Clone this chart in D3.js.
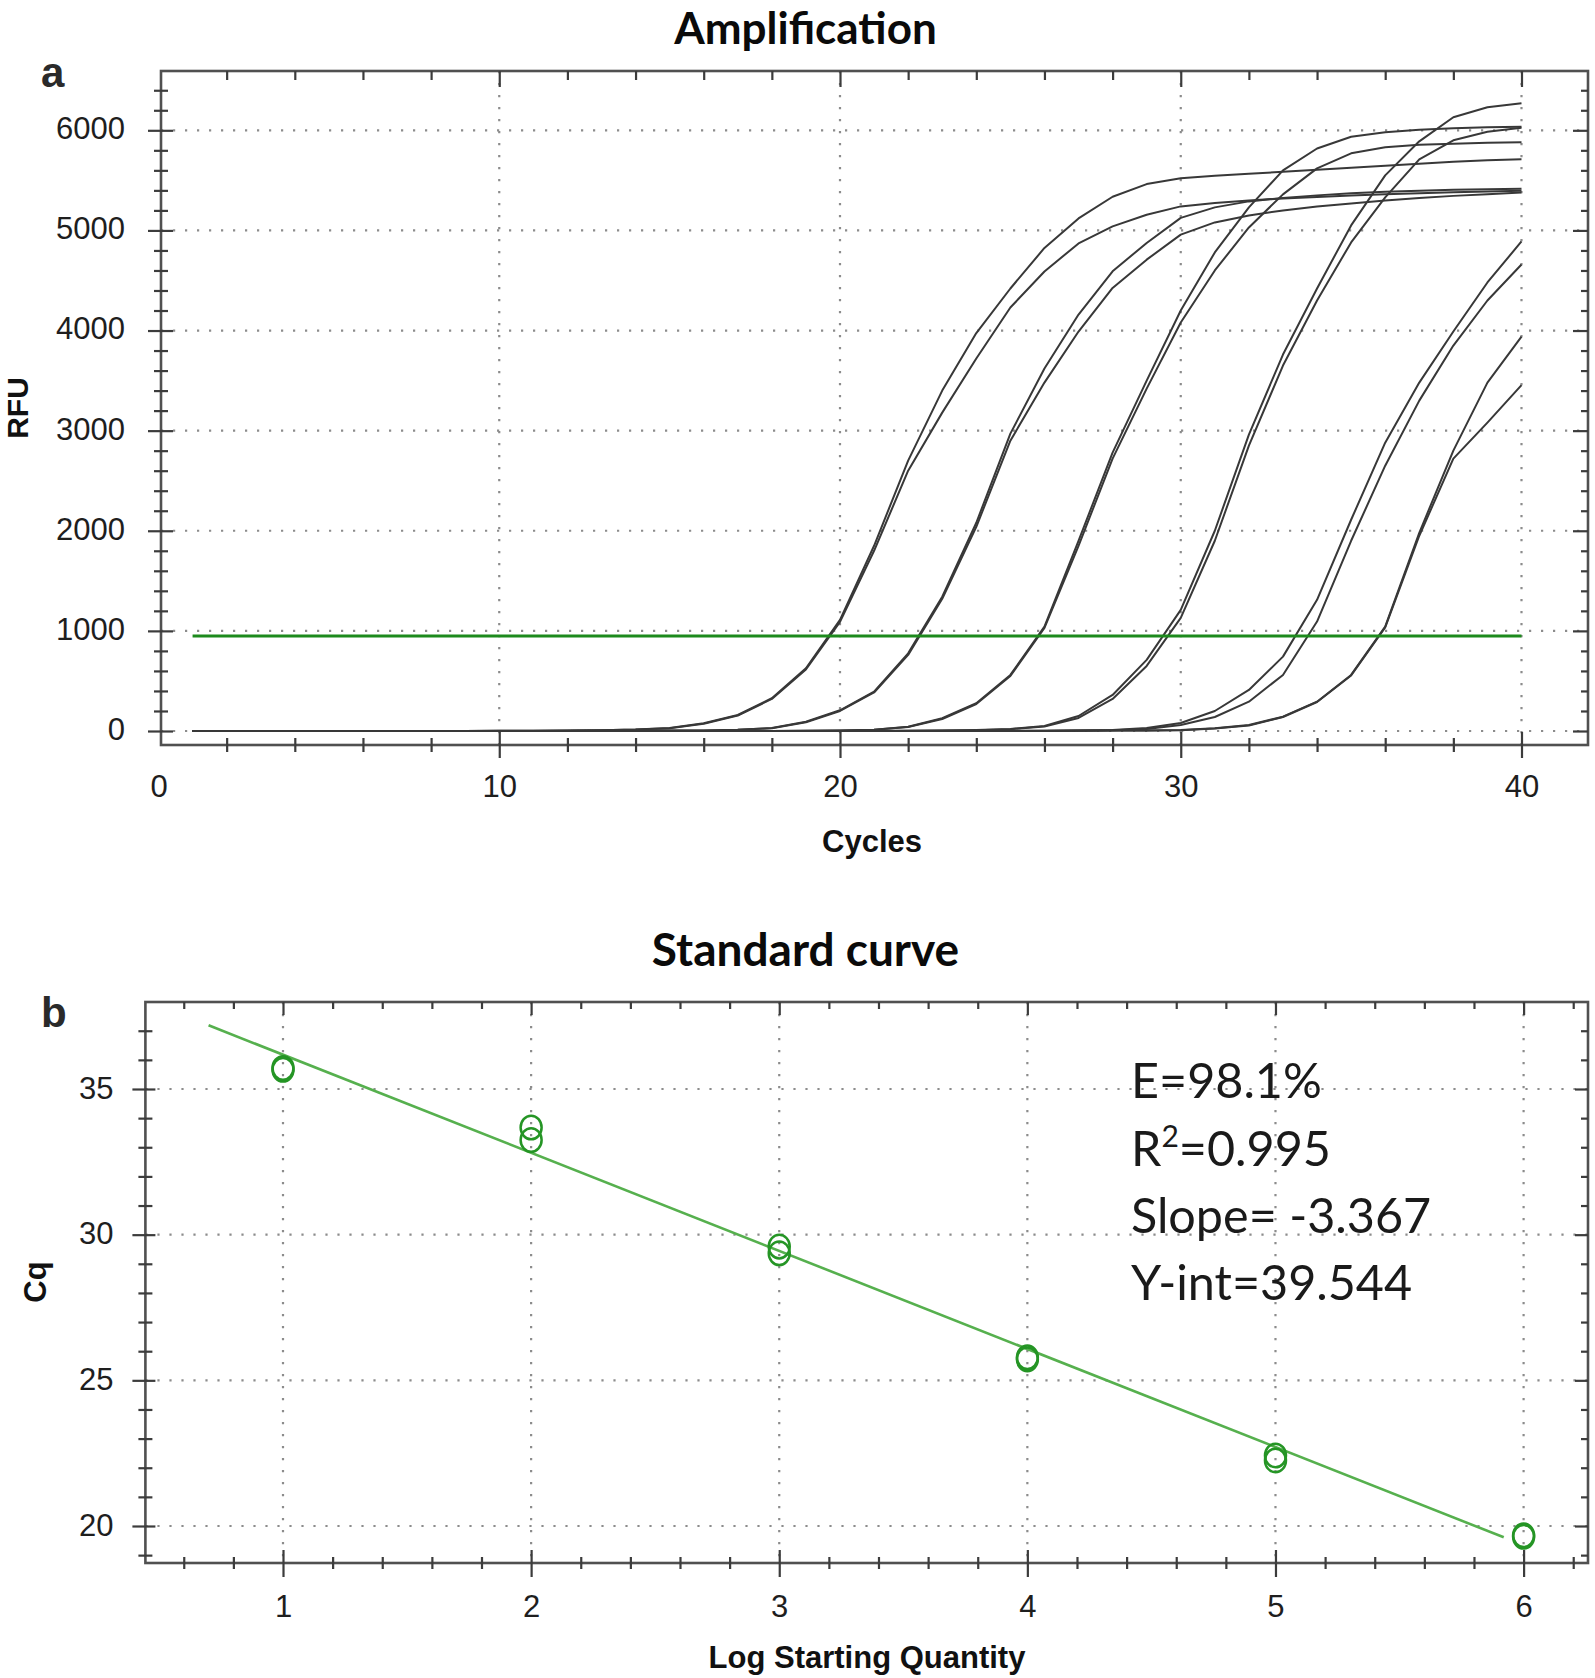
<!DOCTYPE html>
<html><head><meta charset="utf-8">
<script src="https://cdn.jsdelivr.net/npm/d3@7"></script>
<style>body{margin:0;background:#fff}svg{display:block}</style>
</head><body>
<svg id="chart" width="1595" height="1678"></svg>
<script>
// ---------- Panel a data (RFU per cycle, cycles 1..40) ----------
const cycles = [1,2,3,4,5,6,7,8,9,10,11,12,13,14,15,16,17,18,19,20,21,22,23,24,25,26,27,28,29,30,31,32,33,34,35,36,37,38,39,40];
const rfuLog6a = [0,0,0,0,0,0,0,0,0,2, 3,5,8,15,30,77,160,327,627,1110, 1850,2700,3400,3975,4420,4825,5120,5336,5463,5520, 5545,5565,5585,5605,5625,5645,5665,5685,5700,5710];
const rfuLog6b = [0,0,0,0,0,0,0,0,0,2, 3,5,8,14,28,72,155,320,615,1090, 1800,2600,3180,3720,4230,4590,4870,5040,5157,5240, 5275,5300,5320,5335,5350,5362,5372,5380,5388,5395];
const rfuLog5a = [0,0,0,0,0,0,0,0,0,0, 0,1,2,3,4,6,13,30,93,207, 393,776,1342,2080,2970,3620,4160,4592,4875,5125, 5230,5290,5325,5350,5370,5385,5395,5405,5410,5415];
const rfuLog5b = [0,0,0,0,0,0,0,0,0,0, 0,1,2,3,4,6,12,28,88,200, 385,760,1320,2040,2900,3480,3990,4425,4708,4958, 5080,5150,5200,5240,5270,5300,5325,5345,5362,5378];
const rfuLog4a = [0,0,0,0,0,0,0,0,0,0, 0,0,0,0,0,0,0,1,3,5, 12,43,127,277,560,1043,1900,2780,3500,4200, 4780,5230,5600,5818,5935,5980,6005,6020,6030,6035];
const rfuLog4b = [0,0,0,0,0,0,0,0,0,0, 0,0,0,0,0,0,0,1,3,5, 12,40,120,270,550,1030,1850,2720,3420,4080, 4600,5030,5360,5620,5770,5830,5855,5865,5875,5880];
const rfuLog3a = [0,0,0,0,0,0,0,0,0,0, 0,0,0,0,0,0,0,0,0,0, 1,3,5,10,20,50,150,360,710,1210, 2000,2960,3760,4420,5050,5550,5890,6130,6230,6270];
const rfuLog3b = [0,0,0,0,0,0,0,0,0,0, 0,0,0,0,0,0,0,0,0,0, 1,2,4,8,18,45,130,320,650,1130, 1900,2850,3650,4300,4880,5330,5710,5900,5985,6025];
const rfuLog2a = [0,0,0,0,0,0,0,0,0,0, 0,0,0,0,0,0,0,0,0,0, 0,0,0,0,1,3,5,10,30,80, 200,410,743,1310,2110,2880,3480,3990,4480,4890];
const rfuLog2b = [0,0,0,0,0,0,0,0,0,0, 0,0,0,0,0,0,0,0,0,0, 0,0,0,0,1,2,4,8,20,60, 140,293,560,1093,1900,2650,3300,3850,4300,4660];
const rfuLog1a = [0,0,0,0,0,0,0,0,0,0, 0,0,0,0,0,0,0,0,0,0, 0,0,0,0,0,1,2,4,6,10, 27,60,143,293,560,1043,1980,2800,3480,3940];
const rfuLog1b = [0,0,0,0,0,0,0,0,0,0, 0,0,0,0,0,0,0,0,0,0, 0,0,0,0,0,1,2,4,6,8, 25,55,140,290,555,1035,1950,2720,3080,3454];
const thresholdRFU = 949;
const thresholdCycles = [1, 40];
const rfuTicks = [0,1000,2000,3000,4000,5000,6000];
const rfuMinorTicks = [200,400,600,800,1200,1400,1600,1800,2200,2400,2600,2800,3200,3400,3600,3800,4200,4400,4600,4800,5200,5400,5600,5800,6200,6400];
const cycleTicks = [0,10,20,30,40];
const cycleMinorTicks = [2,4,6,8,12,14,16,18,22,24,26,28,32,34,36,38];

// ---------- Panel b data ----------
const logQuantity = [1,1,2,2,3,3,4,4,5,5,6,6];
const cqValues = [35.72,35.66,33.68,33.25,29.59,29.36,25.79,25.72,22.42,22.25,19.68,19.63];
const logTicks = [1,2,3,4,5,6];
const logMinorTicks = [0.6,0.8,1.2,1.4,1.6,1.8,2.2,2.4,2.6,2.8,3.2,3.4,3.6,3.8,4.2,4.4,4.6,4.8,5.2,5.4,5.6,5.8,6.2];
const cqTicks = [20,25,30,35];
const cqMinorTicks = [19,21,22,23,24,26,27,28,29,31,32,33,34,36,37];
const fitRangeX = [0.7, 5.92];
const fitSlope = -3.367;
const fitIntercept = 39.544;
const statLines = [["E=98.1%"], ["R", "2", "=0.995"], ["Slope= -3.367"], ["Y-int=39.544"]];

// ---------- Drawing ----------
const svg = d3.select("#chart");
const AX = "'Liberation Sans', Arial, Helvetica, sans-serif";
const TITLE = "Lato, 'Open Sans', sans-serif";
const gridColor = "#8c8c8c";
const frameColor = "#505050";

function drawTicks(g, axisFn, scale, values, size, tx, ty) {
  const a = axisFn(scale).tickValues(values).tickSize(size).tickFormat("");
  const gg = g.append("g").attr("transform", `translate(${tx},${ty})`).call(a);
  gg.select(".domain").remove();
  gg.selectAll(".tick line").attr("stroke", "#3c3c3c").attr("stroke-width", 2.2);
}
function drawLabels(g, axisFn, scale, values, pad, tx, ty, fmt, dy) {
  const a = axisFn(scale).tickValues(values).tickSize(0).tickPadding(pad).tickFormat(fmt || d3.format("d"));
  const gg = g.append("g").attr("transform", `translate(${tx},${ty})`).call(a);
  gg.select(".domain").remove();
  gg.selectAll("text").attr("font-family", AX).attr("font-size", 31).attr("fill", "#1e1e1e");
  if (dy) gg.selectAll("text").attr("dy", dy);
}
function dotted(sel) {
  return sel.attr("stroke", gridColor).attr("stroke-width", 2.2).attr("stroke-dasharray", "2.2,9.8").attr("fill", "none");
}

// ===== Panel a =====
const A = {left: 161, right: 1588, top: 71, bottom: 745};
const xA = d3.scaleLinear().domain([0, 40]).range([158.5, 1521.5]);
const yA = d3.scaleLinear().domain([0, 6000]).range([731, 130.3]);
const gA = svg.append("g");

gA.selectAll("line.hg").data(rfuTicks).join("line")
  .attr("x1", A.left).attr("x2", A.right).attr("y1", d => yA(d)).attr("y2", d => yA(d)).call(dotted);
gA.selectAll("line.vg").data(cycleTicks.filter(d => d > 0)).join("line")
  .attr("x1", d => xA(d)).attr("x2", d => xA(d)).attr("y1", A.top).attr("y2", A.bottom).call(dotted);

gA.append("rect").attr("x", A.left).attr("y", A.top).attr("width", A.right - A.left).attr("height", A.bottom - A.top)
  .attr("fill", "none").attr("stroke", frameColor).attr("stroke-width", 2.6);

drawTicks(gA, d3.axisLeft, yA, rfuTicks, 25, A.left + 12, 0);
drawTicks(gA, d3.axisLeft, yA, rfuMinorTicks, 14, A.left + 7, 0);
drawTicks(gA, d3.axisLeft, yA, rfuTicks, 15, A.right, 0);
drawTicks(gA, d3.axisLeft, yA, rfuMinorTicks, 7, A.right, 0);
drawTicks(gA, d3.axisBottom, xA, cycleTicks.filter(d => d > 0), 26, 0, A.bottom - 13);
drawTicks(gA, d3.axisBottom, xA, cycleMinorTicks, 14, 0, A.bottom - 7);
drawTicks(gA, d3.axisBottom, xA, cycleTicks.filter(d => d > 0), 16, 0, A.top);
drawTicks(gA, d3.axisBottom, xA, cycleMinorTicks, 9, 0, A.top);

drawLabels(gA, d3.axisLeft, yA, rfuTicks, 36, A.left, 0, d3.format("d"), "0.27em");
drawLabels(gA, d3.axisBottom, xA, cycleTicks, 30, 0, A.bottom, d3.format("d"));

const curves = [rfuLog6a, rfuLog6b, rfuLog5a, rfuLog5b, rfuLog4a, rfuLog4b, rfuLog3a, rfuLog3b, rfuLog2a, rfuLog2b, rfuLog1a, rfuLog1b];
const lineA = d3.line().x((d, i) => xA(cycles[i])).y(d => yA(d));
gA.selectAll("path.curve").data(curves).join("path")
  .attr("d", lineA).attr("fill", "none").attr("stroke", "#383838").attr("stroke-width", 2).attr("stroke-linejoin", "round");

gA.append("line").attr("x1", xA(thresholdCycles[0])).attr("x2", xA(thresholdCycles[1]))
  .attr("y1", yA(thresholdRFU)).attr("y2", yA(thresholdRFU))
  .attr("stroke", "#1d8a1d").attr("stroke-width", 3.2);

gA.append("text").attr("x", 872).attr("y", 852).attr("text-anchor", "middle")
  .attr("font-family", AX).attr("font-weight", 700).attr("font-size", 31).attr("fill", "#111").text("Cycles");
gA.append("text").attr("transform", "translate(28,408) rotate(-90)").attr("text-anchor", "middle")
  .attr("font-family", AX).attr("font-weight", 700).attr("font-size", 30).attr("fill", "#111").text("RFU");
gA.append("text").attr("x", 805.5).attr("y", 44).attr("text-anchor", "middle")
  .attr("font-family", TITLE).attr("font-weight", 700).attr("font-size", 44).attr("fill", "#0a0a0a").text("Amplification");
gA.append("text").attr("x", 41).attr("y", 87)
  .attr("font-family", AX).attr("font-weight", 700).attr("font-size", 42).attr("fill", "#2a2a2a").text("a");

// ===== Panel b =====
const B = {left: 145.4, right: 1588, top: 1002, bottom: 1563};
const xB = d3.scaleLinear().domain([1, 6]).range([283, 1523.6]);
const yB = d3.scaleLinear().domain([20, 35]).range([1526, 1089]);
const gB = svg.append("g");

gB.selectAll("line.hg").data(cqTicks).join("line")
  .attr("x1", B.left).attr("x2", B.right).attr("y1", d => yB(d)).attr("y2", d => yB(d)).call(dotted);
gB.selectAll("line.vg").data(logTicks).join("line")
  .attr("x1", d => xB(d)).attr("x2", d => xB(d)).attr("y1", B.top).attr("y2", B.bottom).call(dotted);

gB.append("rect").attr("x", B.left).attr("y", B.top).attr("width", B.right - B.left).attr("height", B.bottom - B.top)
  .attr("fill", "none").attr("stroke", frameColor).attr("stroke-width", 2.6);

drawTicks(gB, d3.axisLeft, yB, cqTicks, 23, B.left + 10, 0);
drawTicks(gB, d3.axisLeft, yB, cqMinorTicks, 14, B.left + 7, 0);
drawTicks(gB, d3.axisLeft, yB, cqTicks, 13, B.right, 0);
drawTicks(gB, d3.axisLeft, yB, cqMinorTicks, 7, B.right, 0);
drawTicks(gB, d3.axisBottom, xB, logTicks, 27, 0, B.bottom - 13);
drawTicks(gB, d3.axisBottom, xB, logMinorTicks, 12, 0, B.bottom - 6);
drawTicks(gB, d3.axisBottom, xB, logTicks, 13, 0, B.top);
drawTicks(gB, d3.axisBottom, xB, logMinorTicks, 7, 0, B.top);

drawLabels(gB, d3.axisLeft, yB, cqTicks, 32, B.left, 0, d3.format("d"), "0.3em");
drawLabels(gB, d3.axisBottom, xB, logTicks, 32, 0, B.bottom, d3.format("d"));

gB.append("line")
  .attr("x1", xB(fitRangeX[0])).attr("y1", yB(fitIntercept + fitSlope * fitRangeX[0]))
  .attr("x2", xB(fitRangeX[1])).attr("y2", yB(fitIntercept + fitSlope * fitRangeX[1]))
  .attr("stroke", "#56b04e").attr("stroke-width", 2.6);

gB.selectAll("ellipse.pt").data(cqValues).join("ellipse")
  .attr("cx", (d, i) => xB(logQuantity[i])).attr("cy", d => yB(d))
  .attr("rx", 10.5).attr("ry", 11.8)
  .attr("fill", "none").attr("stroke", "#259525").attr("stroke-width", 2.5);

const statY = [1098, 1166, 1233, 1300];
statLines.forEach((parts, i) => {
  const t = gB.append("text").attr("x", 1131).attr("y", statY[i])
    .attr("font-family", TITLE).attr("font-size", 48.5).attr("fill", "#1a1a1a");
  if (parts.length === 1) t.text(parts[0]);
  else {
    t.append("tspan").text(parts[0]);
    t.append("tspan").attr("font-size", 30).attr("dy", -19).text(parts[1]);
    t.append("tspan").attr("dy", 19).text(parts[2]);
  }
});

gB.append("text").attr("x", 867).attr("y", 1668).attr("text-anchor", "middle")
  .attr("font-family", AX).attr("font-weight", 700).attr("font-size", 31).attr("fill", "#111").text("Log Starting Quantity");
gB.append("text").attr("transform", "translate(46,1282) rotate(-90)").attr("text-anchor", "middle")
  .attr("font-family", AX).attr("font-weight", 700).attr("font-size", 31).attr("fill", "#111").text("Cq");
gB.append("text").attr("x", 805.5).attr("y", 966).attr("text-anchor", "middle")
  .attr("font-family", TITLE).attr("font-weight", 700).attr("font-size", 46).attr("fill", "#0a0a0a").text("Standard curve");
gB.append("text").attr("x", 41).attr("y", 1027)
  .attr("font-family", AX).attr("font-weight", 700).attr("font-size", 42).attr("fill", "#2a2a2a").text("b");
</script>
</body></html>
